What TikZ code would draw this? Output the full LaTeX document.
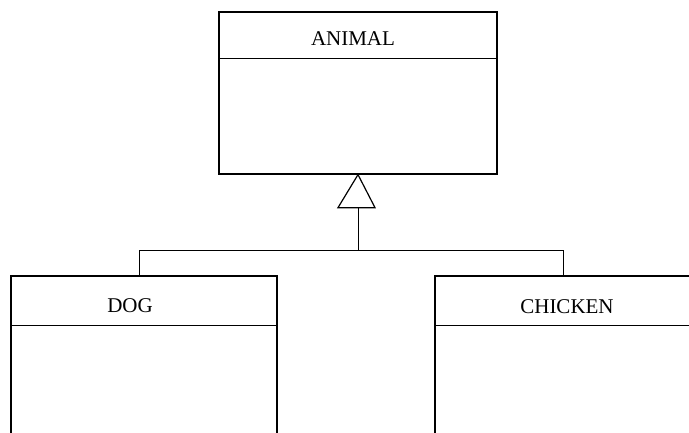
\documentclass[tikz,border=0pt]{standalone}
\usepackage{fontspec}
\setmainfont{Liberation Serif}
\usetikzlibrary{calc}
\begin{document}
\begin{tikzpicture}[x=1pt,y=-1pt,
  classbox/.style={draw=black,line width=1.3pt,rectangle,inner sep=0pt},
  divider/.style={draw=black,line width=0.9pt},
  wire/.style={draw=black,line width=1.0pt},
  title/.style={font=\fontsize{21}{21}\selectfont,anchor=base,inner sep=0pt}]
  \useasboundingbox (0,0) rectangle (689,432);
  \clip (0,0) rectangle (689,432);

  % classes
  \node[classbox,minimum width=278pt,minimum height=162pt] (animal) at (358,93) {};
  \node[classbox,minimum width=266pt,minimum height=184pt] (dog) at (144,368) {};
  \node[classbox,minimum width=265pt,minimum height=184pt] (chicken) at (567.5,368) {};

  % compartment separators
  \draw[divider] ($(animal.north west)+(0,47)$) -- ($(animal.north east)+(0,47)$);
  \draw[divider] ($(dog.north west)+(0,50)$) -- ($(dog.north east)+(0,50)$);
  \draw[divider] ($(chicken.north west)+(0,50)$) -- ($(chicken.north east)+(0,50)$);

  % class names
  \node[title] (animalname) at (353,45) {ANIMAL};
  \node[title] (dogname) at (130,312) {DOG};
  \node[title] (chickenname) at (567,313) {CHICKEN};

  % generalization arrow
  \coordinate (apex) at (animal.south);
  \coordinate (tribase) at ($(apex)+(0,33)$);
  \draw[wire,line width=1.2pt,fill=white] (apex) -- ($(apex)+(-20,33)$) -- ($(apex)+(17,33)$) -- cycle;
  \coordinate (bar) at ($(tribase)+(0,43)$);
  \coordinate (dogtop) at (139,276);
  \coordinate (chickentop) at (563,276);
  \draw[wire] (tribase) -- (bar);
  \draw[wire] (dogtop) |- (bar) -| (chickentop);
\end{tikzpicture}
\end{document}
